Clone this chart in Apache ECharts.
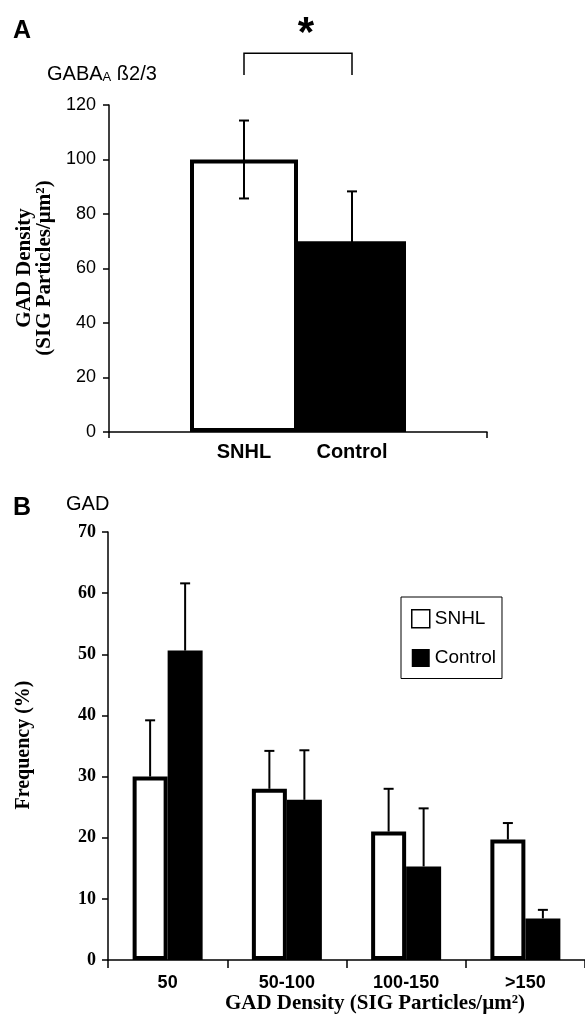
<!DOCTYPE html>
<html>
<head>
<meta charset="utf-8">
<script src="https://cdn.jsdelivr.net/npm/echarts@6/dist/echarts.min.js"></script>
<style>
html,body{margin:0;padding:0;background:#fff;}
#c{width:585px;height:1022px;}
</style>
</head>
<body>
<div id="c"></div>
<script>
// ---- Panel A data ----
const groupsA = ['SNHL', 'Control'];
const meanA = [100, 70];
const sdA = [14.3, 18.3];
const ticksA = [0, 20, 40, 60, 80, 100, 120];
const sigBracketA = [131, 139]; // bracket leg bottom / top (axis units)
const sigStarA = 146;

// ---- Panel B data ----
const categoriesB = ['50', '50-100', '100-150', '>150'];
const snhlB = [30, 28, 21, 19.7];
const snhlSdB = [9.2, 6.2, 7.0, 2.7];
const controlB = [50.6, 26.2, 15.3, 6.8];
const controlSdB = [11.0, 8.1, 9.5, 1.4];
const ticksB = [0, 10, 20, 30, 40, 50, 60, 70];

const SANS = 'Liberation Sans, Arial, sans-serif';
const SERIF = 'Liberation Serif, Times New Roman, serif';
const BW_A = 108, BW_B = 35;

function errSeries(name, xi, yi, data, offset, both) {
  return {
    type: 'custom', name: name, xAxisIndex: xi, yAxisIndex: yi, z: 5, silent: true,
    data: data,
    renderItem: function (params, api) {
      const c = api.value(0), m = api.value(1), s = api.value(2);
      const top = api.coord([c, m + s]);
      const bot = api.coord([c, both ? m - s : m]);
      const x = top[0] + offset;
      const st = { stroke: '#000', lineWidth: 2 };
      const ch = [
        { type: 'line', shape: { x1: x, y1: top[1], x2: x, y2: bot[1] }, style: st },
        { type: 'line', shape: { x1: x - 5, y1: top[1], x2: x + 5, y2: top[1] }, style: st }
      ];
      if (both) ch.push({ type: 'line', shape: { x1: x - 5, y1: bot[1], x2: x + 5, y2: bot[1] }, style: st });
      return { type: 'group', children: ch };
    }
  };
}

const chart = echarts.init(document.getElementById('c'));
const option = {
  animation: false,
  backgroundColor: '#fff',
  grid: [
    { left: 109, top: 105, width: 378, height: 327 },
    { left: 108, top: 532, right: 0, height: 428 }
  ],
  legend: {
    data: [
      { name: 'SNHL', itemStyle: { color: '#fff', borderColor: '#000', borderWidth: 1.5 } },
      { name: 'Control', itemStyle: { color: '#000', borderWidth: 0 } }
    ],
    orient: 'vertical', left: 401, top: 597,
    itemWidth: 18, itemHeight: 18, itemGap: 20,
    icon: 'rect',
    borderColor: '#000', borderWidth: 1,
    padding: [12, 6, 11, 10],
    textStyle: { fontFamily: SANS, fontSize: 19, color: '#000' },
    selectedMode: false
  },
  xAxis: [
    {
      gridIndex: 0, type: 'category', data: [''],
      axisLine: { lineStyle: { color: '#000', width: 1.5 } },
      axisTick: { show: true, length: 6, lineStyle: { color: '#000', width: 1.5 } },
      axisLabel: { show: false }
    },
    {
      gridIndex: 1, type: 'category', data: categoriesB,
      axisLine: { lineStyle: { color: '#000', width: 1.5 } },
      axisTick: { show: true, length: 8, lineStyle: { color: '#000', width: 1.5 } },
      axisLabel: { color: '#000', fontFamily: SANS, fontWeight: 'bold', fontSize: 18, margin: 14 }
    }
  ],
  yAxis: [
    {
      gridIndex: 0, type: 'value', min: ticksA[0], max: ticksA[ticksA.length - 1], interval: 20,
      splitLine: { show: false },
      axisLine: { show: true, lineStyle: { color: '#000', width: 1.5 } },
      axisTick: { show: true, length: 6, lineStyle: { color: '#000', width: 1.5 } },
      axisLabel: { color: '#000', fontFamily: SANS, fontSize: 18, margin: 13 }
    },
    {
      gridIndex: 1, type: 'value', min: ticksB[0], max: ticksB[ticksB.length - 1], interval: 10,
      splitLine: { show: false },
      axisLine: { show: true, lineStyle: { color: '#000', width: 1.5 } },
      axisTick: { show: true, length: 6, lineStyle: { color: '#000', width: 1.5 } },
      axisLabel: { color: '#000', fontFamily: SERIF, fontWeight: 'bold', fontSize: 18, margin: 12 }
    }
  ],
  series: [
    {
      type: 'bar', name: 'A-SNHL', xAxisIndex: 0, yAxisIndex: 0, barWidth: BW_A, barGap: '0%',
      data: [meanA[0]],
      itemStyle: { color: '#fff', borderColor: '#000', borderWidth: 4 },
      label: { show: true, position: 'bottom', distance: 10, formatter: groupsA[0],
        color: '#000', fontFamily: SANS, fontWeight: 'bold', fontSize: 20 }
    },
    {
      type: 'bar', name: 'A-Control', xAxisIndex: 0, yAxisIndex: 0, barWidth: BW_A, barGap: '0%',
      data: [meanA[1]],
      itemStyle: { color: '#000' },
      label: { show: true, position: 'bottom', distance: 10, formatter: groupsA[1],
        color: '#000', fontFamily: SANS, fontWeight: 'bold', fontSize: 20 }
    },
    errSeries('errA0', 0, 0, [[0, meanA[0], sdA[0]]], -BW_A / 2, true),
    errSeries('errA1', 0, 0, [[0, meanA[1], sdA[1]]], BW_A / 2, true),
    {
      type: 'custom', name: 'sig', xAxisIndex: 0, yAxisIndex: 0, z: 5, silent: true, clip: false,
      data: [[0, sigBracketA[0], sigBracketA[1], sigStarA]],
      renderItem: function (params, api) {
        const lo = api.coord([api.value(0), api.value(1)]);
        const hi = api.coord([api.value(0), api.value(2)]);
        const st = api.coord([api.value(0), api.value(3)]);
        const xl = lo[0] - BW_A / 2, xr = lo[0] + BW_A / 2;
        return { type: 'group', children: [
          { type: 'polyline', shape: { points: [[xl, lo[1]], [xl, hi[1]], [xr, hi[1]], [xr, lo[1]]] },
            style: { stroke: '#000', lineWidth: 1.5, fill: null } },
          { type: 'text', x: lo[0] + 8, y: st[1],
            style: { text: '*', font: 'bold 42px ' + SANS, fill: '#000', align: 'center', verticalAlign: 'middle' } }
        ] };
      }
    },
    {
      type: 'bar', name: 'SNHL', xAxisIndex: 1, yAxisIndex: 1, barWidth: BW_B, barGap: '0%',
      data: snhlB,
      itemStyle: { color: '#fff', borderColor: '#000', borderWidth: 4 }
    },
    {
      type: 'bar', name: 'Control', xAxisIndex: 1, yAxisIndex: 1, barWidth: BW_B, barGap: '0%',
      data: controlB,
      itemStyle: { color: '#000' }
    },
    errSeries('errB0', 1, 1, snhlB.map((v, i) => [i, v, snhlSdB[i]]), -BW_B / 2, false),
    errSeries('errB1', 1, 1, controlB.map((v, i) => [i, v, controlSdB[i]]), BW_B / 2, false)
  ],
  graphic: [
    { type: 'text', left: 13, top: 19, style: { text: 'A', font: 'bold 25px ' + SANS, fill: '#000' } },
    { type: 'text', left: 13, top: 496, style: { text: 'B', font: 'bold 25px ' + SANS, fill: '#000' } },
    { type: 'text', left: 47, top: 64, style: {
        text: '{a|GABA}{s|A}{a| ß2/3}', fill: '#000',
        rich: { a: { fontFamily: SANS, fontSize: 20, lineHeight: 24, verticalAlign: 'bottom' },
                s: { fontFamily: SANS, fontSize: 13, lineHeight: 14, verticalAlign: 'bottom' } } } },
    { type: 'text', left: 66, top: 494, style: { text: 'GAD', font: '20px ' + SANS, fill: '#000' } },
    { type: 'text', x: 35, y: 268, rotation: Math.PI / 2, style: {
        text: 'GAD Density\n(SIG Particles/µm²)', font: 'bold 21px ' + SERIF, lineHeight: 20,
        fill: '#000', align: 'center', verticalAlign: 'middle' } },
    { type: 'text', x: 24, y: 745, rotation: Math.PI / 2, style: {
        text: 'Frequency (%)', font: 'bold 20px ' + SERIF,
        fill: '#000', align: 'center', verticalAlign: 'middle' } },
    { type: 'text', x: 375, y: 1004, style: {
        text: 'GAD Density (SIG Particles/µm²)', font: 'bold 21px ' + SERIF,
        fill: '#000', align: 'center', verticalAlign: 'middle' } }
  ]
};
chart.setOption(option);
</script>
</body>
</html>
